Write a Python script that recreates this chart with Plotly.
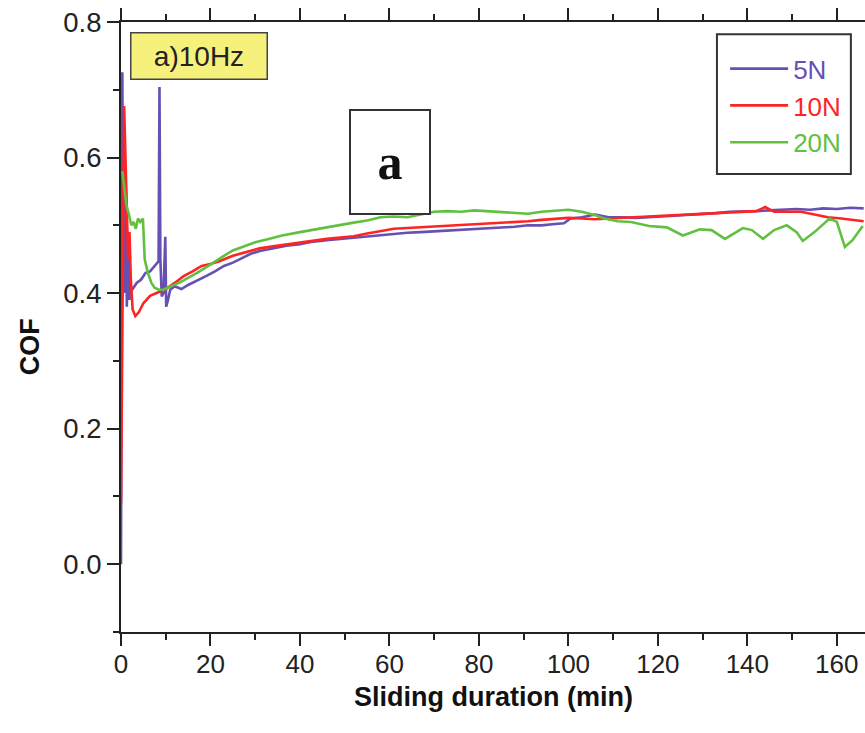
import plotly.graph_objects as go

# ---- data ----
x_5n = [0, 0.3, 0.5, 0.7, 0.9, 1.1, 1.3, 1.6, 1.9, 2.2, 2.5, 3.5, 4.5, 5.5, 6.5, 7.5, 8.4, 8.6, 8.8,
        9.1, 9.5, 9.9, 10.1, 10.5, 11, 12, 13.5, 15, 17, 19, 21, 23, 25, 27, 29, 31, 33, 35, 37, 40,
        43, 46, 49, 52, 55, 58, 61, 64, 67, 70, 73, 76, 79, 82, 85, 88, 91, 94, 97, 99, 100.5, 103,
        106, 109, 112, 115, 118, 121, 124, 127, 130, 133, 136, 139, 142, 145, 148, 151, 154, 157,
        160, 163, 166]
y_5n = [0.0, 0.726, 0.45, 0.60, 0.40, 0.55, 0.38, 0.47, 0.39, 0.41, 0.405, 0.415, 0.42, 0.43, 0.432,
        0.44, 0.447, 0.704, 0.45, 0.395, 0.40, 0.483, 0.38, 0.39, 0.405, 0.41, 0.406, 0.412, 0.418,
        0.425, 0.432, 0.44, 0.445, 0.452, 0.458, 0.462, 0.465, 0.468, 0.47, 0.472, 0.476, 0.478, 0.48,
        0.481, 0.483, 0.485, 0.488, 0.489, 0.49, 0.491, 0.493, 0.494, 0.494, 0.495, 0.497, 0.498, 0.5,
        0.5, 0.502, 0.503, 0.51, 0.512, 0.516, 0.512, 0.512, 0.511, 0.512, 0.513, 0.514, 0.516, 0.517,
        0.518, 0.52, 0.52, 0.521, 0.522, 0.523, 0.524, 0.523, 0.525, 0.524, 0.526, 0.525]

x_10n = [0, 0.4, 0.7, 1.0, 1.3, 1.6, 1.9, 2.2, 2.6, 3.2, 4, 5, 6.5, 8, 10, 12, 14, 16, 18, 20, 22,
         25, 28, 31, 34, 37, 40, 43, 46, 49, 52, 55, 58, 61, 64, 67, 70, 73, 76, 79, 82, 85, 88, 91,
         94, 97, 100, 103, 106, 109, 112, 115, 118, 121, 124, 127, 130, 133, 136, 139, 142, 144, 146,
         149, 152, 155, 158, 161, 164, 166]
y_10n = [0.09, 0.5, 0.676, 0.6, 0.5, 0.45, 0.49, 0.42, 0.376, 0.366, 0.372, 0.385, 0.396, 0.4, 0.406,
         0.415, 0.425, 0.432, 0.44, 0.443, 0.447, 0.455, 0.46, 0.466, 0.469, 0.472, 0.475, 0.478,
         0.48, 0.482, 0.484, 0.488, 0.491, 0.495, 0.496, 0.497, 0.498, 0.499, 0.5, 0.501, 0.502,
         0.504, 0.505, 0.506, 0.508, 0.51, 0.511, 0.51, 0.509, 0.51, 0.511, 0.512, 0.513, 0.514,
         0.515, 0.516, 0.518, 0.519, 0.52, 0.52, 0.521, 0.527, 0.52, 0.52, 0.52, 0.516, 0.512, 0.51,
         0.507, 0.506]

x_20n = [0.3, 0.8, 1.2, 1.8, 2.3, 2.8, 3.3, 3.8, 4.3, 4.9, 5.3, 6.0, 6.8, 7.5, 8.5, 9.5, 11, 13, 15,
         17, 19, 21, 23, 25, 27, 30, 33, 36, 40, 44, 48, 52, 55, 58, 61, 64, 67, 70, 73, 76, 79, 82,
         85, 88, 91, 94, 97, 100, 103, 106, 108, 111, 114, 118, 122, 125.6, 129.4, 132, 135, 139, 141,
         143.5, 146, 148.8, 151, 152.4, 155, 158.4, 160, 161.8, 163.5, 165.8]
y_20n = [0.58, 0.55, 0.53, 0.515, 0.5, 0.505, 0.495, 0.51, 0.505, 0.51, 0.45, 0.43, 0.415, 0.408,
         0.405, 0.405, 0.41, 0.415, 0.422, 0.43, 0.438, 0.447, 0.455, 0.463, 0.468, 0.475, 0.48,
         0.485, 0.49, 0.495, 0.499, 0.504, 0.507, 0.512, 0.513, 0.512, 0.516, 0.52, 0.521, 0.52,
         0.522, 0.521, 0.52, 0.518, 0.517, 0.52, 0.522, 0.523, 0.52, 0.515, 0.51, 0.506, 0.505,
         0.499, 0.497, 0.485, 0.494, 0.493, 0.48, 0.496, 0.493, 0.48, 0.493, 0.5, 0.49, 0.477, 0.49,
         0.51, 0.505, 0.468, 0.478, 0.499]

series_names = ["5N", "10N", "20N"]
series_colors = ["#6650b4", "#ff2424", "#62c040"]
x_ticks = [0, 20, 40, 60, 80, 100, 120, 140, 160]
y_ticks = [0.0, 0.2, 0.4, 0.6, 0.8]

FONT = "Arial, Liberation Sans, sans-serif"

fig = go.Figure()
for xs, ys, name, col in zip([x_5n, x_10n, x_20n], [y_5n, y_10n, y_20n], series_names, series_colors):
    fig.add_trace(go.Scatter(
        x=xs, y=ys, mode="lines", line=dict(color=col, width=2.6),
        name=f"<span style='color:{col}'>{name}</span>"))

axis_common = dict(
    showline=True, linecolor="#222", linewidth=2, ticks="outside", ticklen=12,
    tickwidth=2, tickcolor="#222", showgrid=False, zeroline=False,
)
fig.update_xaxes(**axis_common, range=[0, 166.3], tickvals=x_ticks, mirror="ticks",
                 tickfont=dict(family=FONT, size=26, color="#222"), ticklabelstandoff=-4,
                 minor=dict(dtick=10, tick0=0, ticklen=6, tickwidth=2, tickcolor="#222", ticks="outside"))
fig.update_yaxes(**axis_common, range=[-0.1, 0.8], tickvals=y_ticks, tickformat=".1f",
                 tickfont=dict(family=FONT, size=27.5, color="#222"),
                 minor=dict(dtick=0.1, tick0=0, ticklen=6, tickwidth=2, tickcolor="#222", ticks="outside"))

fig.update_layout(
    width=865, height=733,
    margin=dict(l=121, r=0, t=22, b=101),
    paper_bgcolor="white", plot_bgcolor="white",
    showlegend=True,
    legend=dict(x=0.812, y=0.962, xanchor="left", yanchor="top",
                bgcolor="rgba(0,0,0,0)", borderwidth=0,
                font=dict(family=FONT, size=26), itemwidth=58, tracegroupgap=0),
    shapes=[dict(type="rect", xref="paper", yref="paper", x0=0.801, x1=0.981, y0=0.751, y1=0.980,
                 line=dict(color="#333", width=2))],
    annotations=[
        dict(text="a)10Hz", xref="paper", yref="paper", x=0.1042, y=0.945, xanchor="center",
             yanchor="middle", showarrow=False, font=dict(family=FONT, size=28, color="#222"),
             bgcolor="#f6f07c", bordercolor="#444", borderwidth=1.5, borderpad=2,
             width=131, height=41),
        dict(text="<b>a</b>", xref="paper", yref="paper", x=0.3616, y=0.7705, xanchor="center",
             yanchor="middle", showarrow=False,
             font=dict(family="Liberation Serif, Times New Roman, serif", size=50, color="#111"),
             bgcolor="white", bordercolor="#333", borderwidth=2, borderpad=2,
             width=74, height=98),
        dict(text="<b>COF</b>", xref="paper", yref="paper", x=-0.1223, y=0.467, xanchor="center",
             yanchor="middle", textangle=-90, showarrow=False,
             font=dict(family=FONT, size=27, color="#111")),
        dict(text="<b>Sliding duration (min)</b>", xref="paper", yref="paper", x=0.501, y=-0.106,
             xanchor="center", yanchor="middle", showarrow=False,
             font=dict(family=FONT, size=27, color="#111")),
    ],
)

fig.write_html("out.html")
